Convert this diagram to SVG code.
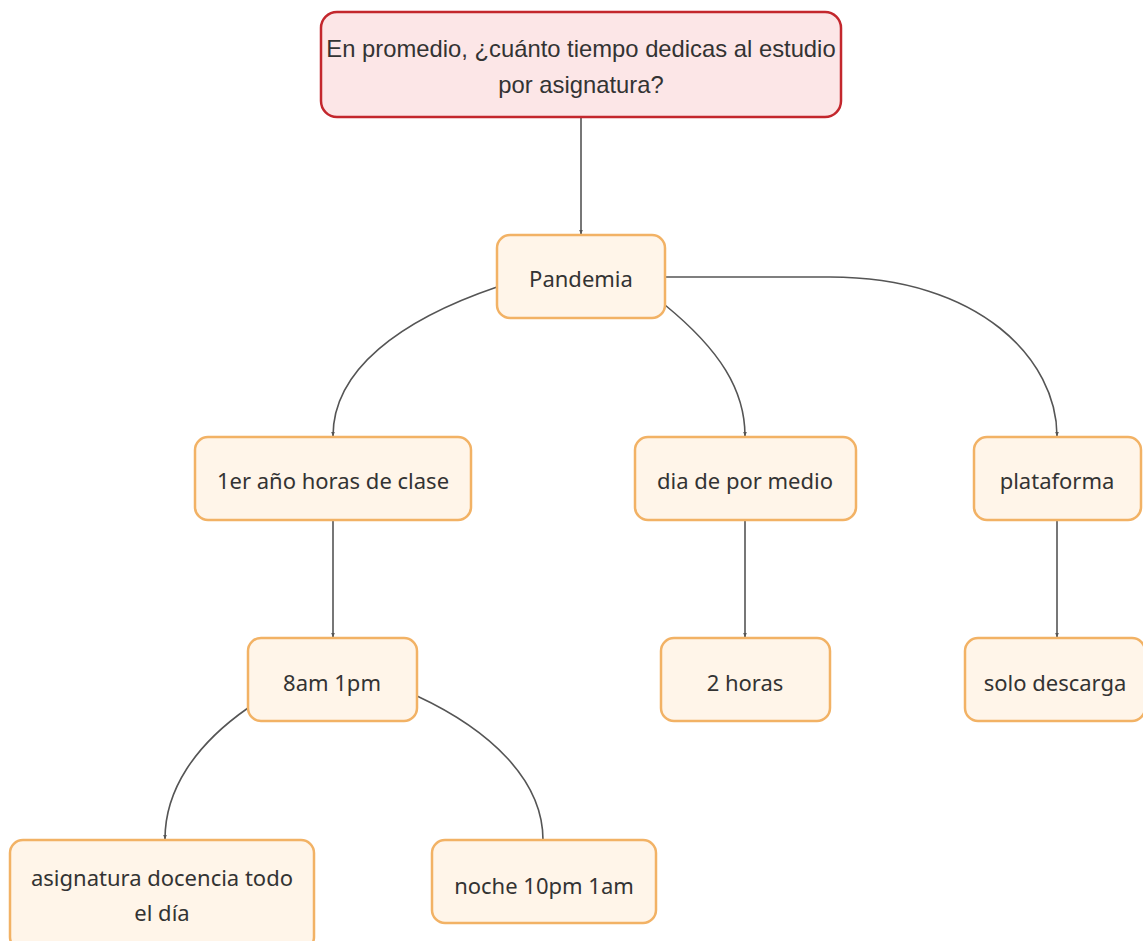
<svg xmlns="http://www.w3.org/2000/svg" width="1143" height="941" viewBox="0 0 1143 941">
<style>
.node rect{fill:#fff5e9;stroke:#f2b265;stroke-width:2.5}
.node text{font-family:"Noto Sans",Lato,sans-serif;font-size:22px;fill:#333;text-anchor:middle;dominant-baseline:central}
#q rect{fill:#fce6e7;stroke:#c3272d;stroke-width:2.5}
#q text{font-family:"Liberation Sans",Arial,sans-serif;font-size:23.8px;fill:#333;text-anchor:middle;dominant-baseline:central}
#edges path{fill:none;stroke:#555;stroke-width:1.6}
</style>
<defs>
<marker id="ah" viewBox="0 0 10 10" refX="9" refY="5" markerWidth="5" markerHeight="5" orient="auto" markerUnits="userSpaceOnUse"><path d="M0,1 L10,5 L0,9 z" fill="#555"/></marker>
</defs>
<rect width="1143" height="941" fill="#fff"/>
<g id="edges">
<path d="M581,117 L581,234" marker-end="url(#ah)"/>
<path d="M497,287 C400,320 333,370 333,436" marker-end="url(#ah)"/>
<path d="M665,305 C720,350 745,390 745,436" marker-end="url(#ah)"/>
<path d="M665,277 L830,277 C980,277 1057,360 1057,436" marker-end="url(#ah)"/>
<path d="M333,520 L333,637" marker-end="url(#ah)"/>
<path d="M745,520 L745,637" marker-end="url(#ah)"/>
<path d="M1057,520 L1057,637" marker-end="url(#ah)"/>
<path d="M248,708 C195,745 165,790 165,839" marker-end="url(#ah)"/>
<path d="M417,696 C490,730 543,780 543,840"/>
</g>
<g id="q"><rect x="321" y="12" width="520" height="105" rx="16"/><text x="581" y="48">En promedio, ¿cuánto tiempo dedicas al estudio</text><text x="581" y="84">por asignatura?</text></g>
<g id="n-pandemia" class="node"><rect x="497" y="235" width="168" height="83" rx="13"/><text x="581" y="278">Pandemia</text></g>
<g id="n-1er" class="node"><rect x="195" y="437" width="276" height="83" rx="13"/><text x="333" y="480">1er año horas de clase</text></g>
<g id="n-dia" class="node"><rect x="635" y="437" width="221" height="83" rx="13"/><text x="745" y="480">dia de por medio</text></g>
<g id="n-plat" class="node"><rect x="974" y="437" width="167" height="83" rx="13"/><text x="1057" y="480">plataforma</text></g>
<g id="n-8am" class="node"><rect x="248" y="638" width="169" height="83" rx="13"/><text x="332" y="682">8am 1pm</text></g>
<g id="n-2h" class="node"><rect x="661" y="638" width="169" height="83" rx="13"/><text x="745" y="682">2 horas</text></g>
<g id="n-solo" class="node"><rect x="965" y="638" width="180" height="83" rx="13"/><text x="1055" y="682">solo descarga</text></g>
<g id="n-asig" class="node"><rect x="10" y="840" width="304" height="110" rx="13"/><text x="162" y="877">asignatura docencia todo</text><text x="162" y="912">el día</text></g>
<g id="n-noche" class="node"><rect x="432" y="840" width="224" height="83" rx="13"/><text x="544" y="885">noche 10pm 1am</text></g>
</svg>
